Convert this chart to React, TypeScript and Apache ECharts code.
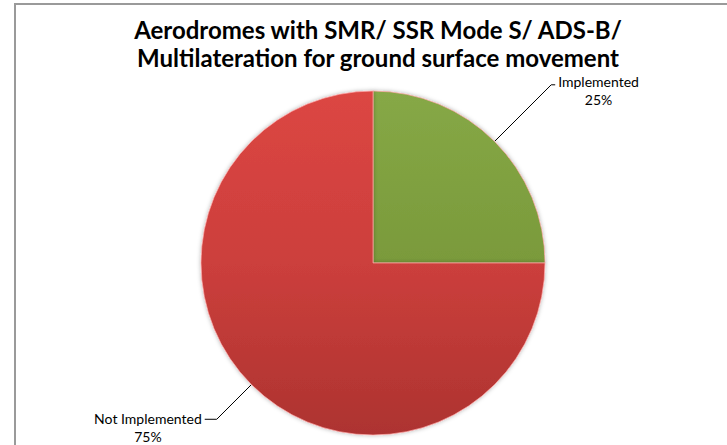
import React, { useEffect, useRef } from "react";
import * as echarts from "echarts";

const titleLines = ["Aerodromes with SMR/ SSR Mode S/ ADS-B/", "Multilateration for ground surface movement"];
const categories = ["Implemented", "Not Implemented"];
const values = [25, 75];
const percentLabels = ["25%", "75%"];

const fills = [
  new echarts.graphic.LinearGradient(0, 0, 0, 1, [
    { offset: 0, color: "#86a846" },
    { offset: 1, color: "#7a9a3b" },
  ]),
  new echarts.graphic.LinearGradient(0, 0, 0, 1, [
    { offset: 0, color: "#dc4643" },
    { offset: 0.5, color: "#cc3f3c" },
    { offset: 1, color: "#ad3330" },
  ]),
];
const lineLens = [
  { length: 80, length2: 4 },
  { length: 49, length2: 12 },
];
const labelShift = [6, 9];

export default function App() {
  const ref = useRef<HTMLDivElement>(null);
  useEffect(() => {
    if (!ref.current) return;
    const chart = echarts.init(ref.current, null, { renderer: "svg" });
    const font = "Lato, 'Open Sans', sans-serif";
    chart.setOption({
      animation: false,
      backgroundColor: "#ffffff",
      graphic: [
        {
          type: "rect",
          shape: { x: 15, y: 4, width: 730, height: 460 },
          style: { fill: "none", stroke: "#9a9a9a", lineWidth: 2 },
          silent: true,
        },
      ],
      title: {
        text: titleLines.join("\n"),
        left: 373,
        top: 11,
        textAlign: "center",
        textStyle: {
          fontFamily: font,
          fontWeight: "bold",
          fontSize: 24,
          lineHeight: 27.5,
          color: "#000000",
        },
      },
      series: [
        {
          type: "pie",
          center: [373, 263],
          radius: 172,
          startAngle: 90,
          clockwise: true,
          avoidLabelOverlap: false,
          itemStyle: {
            borderColor: "rgba(255,170,170,0.7)",
            borderWidth: 1,
            shadowBlur: 4,
            shadowColor: "rgba(0,0,0,0.3)",
          },
          label: {
            show: true,
            position: "outside",
            distanceToLabelLine: 3,
            fontFamily: font,
            fontSize: 14,
            color: "#000000",
            formatter: (p: any) => `{a|${p.name}}\n{b|${percentLabels[p.dataIndex]}}`,
            rich: {
              a: { fontFamily: font, fontSize: 14, color: "#000", lineHeight: 17 },
              b: { fontFamily: font, fontSize: 14, color: "#000", lineHeight: 19, align: "center" },
            },
          },
          labelLayout: (params: any) => ({ dy: labelShift[params.dataIndex] }),
          labelLine: {
            show: true,
            lineStyle: { color: "#000000", width: 1 },
          },
          emphasis: { disabled: true },
          data: categories.map((name, i) => ({
            name,
            value: values[i],
            itemStyle: { color: fills[i] },
            labelLine: { show: true, length: lineLens[i].length, length2: lineLens[i].length2 },
          })),
        },
      ],
    });
    return () => chart.dispose();
  }, []);
  return (
    <div
      ref={ref}
      style={{ position: "fixed", left: 0, top: 0, width: 727, height: 445 }}
    />
  );
}
